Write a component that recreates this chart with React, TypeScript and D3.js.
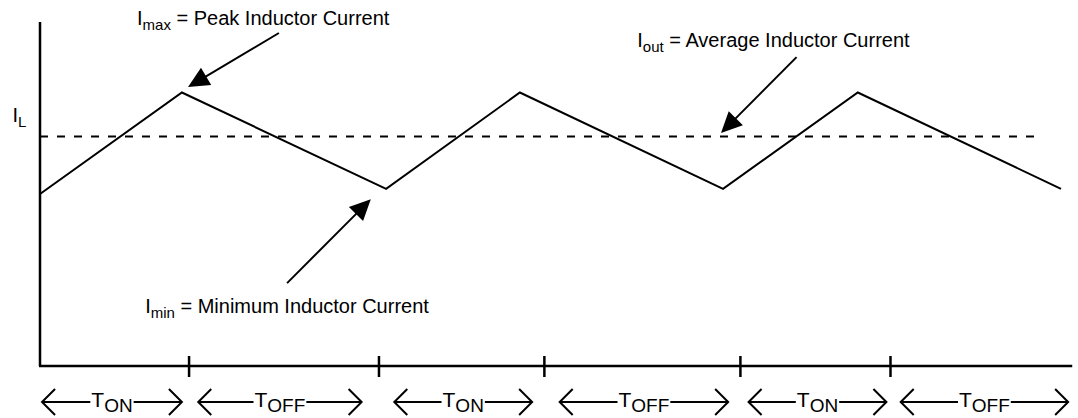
import React, { useEffect, useRef } from 'react';
import * as d3 from 'd3';

// waveform corners (time in arbitrary units, current in arbitrary units)
const waveTime = [0, 1.39, 3.39, 4.7, 6.69, 8.01, 10.0];
const waveCurrent = [5.0, 7.95, 5.15, 7.95, 5.15, 7.95, 5.15];

const avgCurrent = 6.67;
const avgEnd = 9.75;

// switching instants marked on the time axis
const tickTimes = [1.46, 3.32, 4.94, 6.86, 8.33];

// on / off intervals shown under the axis
const phaseStart = [0.02, 1.55, 3.47, 5.09, 6.94, 8.43];
const phaseEnd = [1.39, 3.15, 4.82, 6.74, 8.29, 10.07];
const phaseLabel = ['ON', 'OFF', 'ON', 'OFF', 'ON', 'OFF'];

// callouts: label anchor, arrow tail, arrow tip
const calloutMain = ['I', 'I', 'I'];
const calloutSub = ['max', 'out', 'min'];
const calloutRest = [' = Peak Inductor Current', ' = Average Inductor Current', ' = Minimum Inductor Current'];
const calloutLabelAt = [[0.95, 9.91], [5.85, 9.27], [1.03, 1.54]];
const calloutTail = [[2.34, 9.68], [7.41, 8.98], [2.42, 2.41]];
const calloutTip = [[1.45, 8.11], [6.67, 6.77], [3.24, 4.85]];

const W = 1078;
const H = 418;
const FONT = '"Liberation Sans", Arial, Helvetica, sans-serif';

const App: React.FC = () => {
  const svgRef = useRef<SVGSVGElement>(null);

  useEffect(() => {
    if (!svgRef.current) return;
    const svg = d3.select(svgRef.current);
    svg.selectAll('*').remove();

    const x = d3.scaleLinear().domain([0, 10]).range([40, 1061]);
    const y = d3.scaleLinear().domain([0, 10]).range([366, 22]);

    // axes
    svg.append('line')
      .attr('x1', x(0)).attr('x2', x(0))
      .attr('y1', y(10)).attr('y2', y(0))
      .attr('stroke', '#000').attr('stroke-width', 2.5);
    svg.append('line')
      .attr('x1', x(0) - 1).attr('x2', x(10.11))
      .attr('y1', y(0)).attr('y2', y(0))
      .attr('stroke', '#000').attr('stroke-width', 2.5);

    svg.selectAll('line.tick')
      .data(tickTimes)
      .enter()
      .append('line')
      .attr('class', 'tick')
      .attr('x1', d => x(d)).attr('x2', d => x(d))
      .attr('y1', y(0) - 10).attr('y2', y(0) + 11)
      .attr('stroke', '#000').attr('stroke-width', 2.5);

    // average current (dashed)
    svg.append('line')
      .attr('x1', x(0)).attr('x2', x(avgEnd))
      .attr('y1', y(avgCurrent)).attr('y2', y(avgCurrent))
      .attr('stroke', '#000').attr('stroke-width', 2)
      .attr('stroke-dasharray', '8,9');

    // inductor current waveform
    const line = d3.line<number>()
      .x((_, i) => x(waveTime[i]))
      .y(d => y(d));
    svg.append('path')
      .attr('d', line(waveCurrent) || '')
      .attr('fill', 'none')
      .attr('stroke', '#000')
      .attr('stroke-width', 2)
      .attr('stroke-linejoin', 'miter');

    // I_L label
    const il = svg.append('text')
      .attr('x', x(-0.27)).attr('y', y(7.09))
      .attr('font-family', FONT).attr('font-size', 20);
    il.append('tspan').text('I');
    il.append('tspan').attr('dy', 5).attr('font-size', 15).text('L');

    // callouts
    calloutMain.forEach((m, i) => {
      const t = svg.append('text')
        .attr('x', x(calloutLabelAt[i][0])).attr('y', y(calloutLabelAt[i][1]))
        .attr('font-family', FONT).attr('font-size', 20);
      t.append('tspan').text(m);
      t.append('tspan').attr('dy', 5).attr('font-size', 15).text(calloutSub[i]);
      t.append('tspan').attr('dy', -5).text(calloutRest[i]);

      const x0 = x(calloutTail[i][0]);
      const y0 = y(calloutTail[i][1]);
      const x1 = x(calloutTip[i][0]);
      const y1 = y(calloutTip[i][1]);
      const len = Math.hypot(x1 - x0, y1 - y0);
      const ux = (x1 - x0) / len;
      const uy = (y1 - y0) / len;
      const headLen = 21;
      const headHalf = 10;
      const bx = x1 - ux * headLen;
      const by = y1 - uy * headLen;
      svg.append('line')
        .attr('x1', x0).attr('y1', y0)
        .attr('x2', bx + ux * 2).attr('y2', by + uy * 2)
        .attr('stroke', '#000').attr('stroke-width', 2);
      svg.append('path')
        .attr('d', `M${x1},${y1}L${bx - uy * headHalf},${by + ux * headHalf}L${bx + uy * headHalf},${by - ux * headHalf}Z`)
        .attr('fill', '#000');
    });

    // on / off time arrows
    const rowY = 402;
    const chev = 13;
    phaseLabel.forEach((lab, i) => {
      const a = x(phaseStart[i]);
      const b = x(phaseEnd[i]);
      const mid = (a + b) / 2;
      const t = svg.append('text')
        .attr('x', mid).attr('y', rowY + 5)
        .attr('font-family', FONT).attr('font-size', 21)
        .attr('text-anchor', 'middle');
      t.append('tspan').text('T');
      t.append('tspan').attr('dy', 5).attr('font-size', 19).text(lab);
      const bb = (t.node() as SVGTextElement).getBBox();
      const g = svg.append('g')
        .attr('fill', 'none').attr('stroke', '#000').attr('stroke-width', 2)
        .attr('stroke-linejoin', 'miter');
      g.append('path').attr('d', `M${a + chev},${rowY - chev}L${a},${rowY}L${a + chev},${rowY + chev}`);
      g.append('path').attr('d', `M${b - chev},${rowY - chev}L${b},${rowY}L${b - chev},${rowY + chev}`);
      g.append('line').attr('x1', a).attr('x2', bb.x - 1).attr('y1', rowY).attr('y2', rowY);
      g.append('line').attr('x1', bb.x + bb.width + 1).attr('x2', b).attr('y1', rowY).attr('y2', rowY);
    });
  }, []);

  return (
    <svg
      ref={svgRef}
      width={W}
      height={H}
      style={{ position: 'absolute', left: 0, top: 0, background: '#fff' }}
    />
  );
};

export default App;
